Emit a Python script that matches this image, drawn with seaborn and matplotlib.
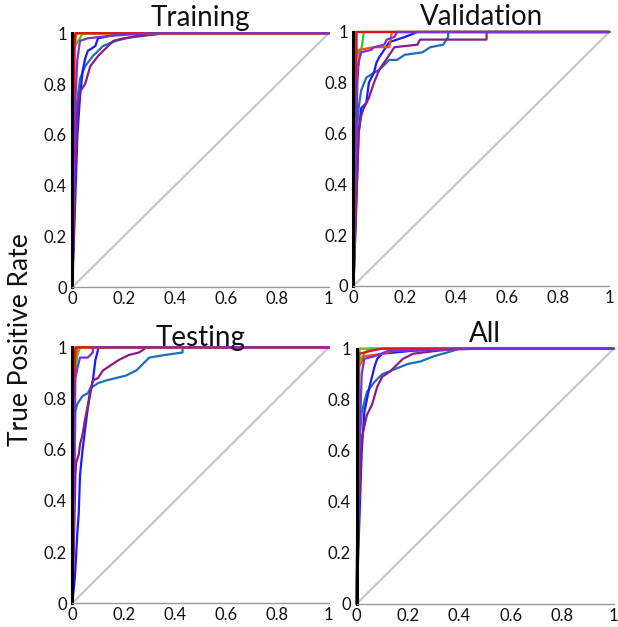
import matplotlib
matplotlib.use("Agg")
import matplotlib.pyplot as plt
import seaborn as sns
import pandas as pd

# ---------------- data ----------------
class_colors = {
    "c2": "#2ecc2e", "c3": "#8fa000", "c4": "#ff5000",
    "c5": "#e0101a", "c6": "#1f6fb5", "c7": "#1a1aff", "c8": "#8b1a8b",
    "c9": "#7b2fd6",
}
draw_order = ["c6", "c7", "c8", "c3", "c2", "c4", "c5", "c9"]
panel_titles = ["Training", "Validation", "Testing", "All"]
tick_values = [0, 0.2, 0.4, 0.6, 0.8, 1]
tick_labels = ["0", "0.2", "0.4", "0.6", "0.8", "1"]
ylabel_text = "True Positive Rate"

train_fpr = {
    "c2": [0, 0.01, 0.03, 0.04, 1],
    "c3": [0, 0.008, 0.012, 1],
    "c4": [0, 0.008, 0.014, 1],
    "c5": [0, 0.006, 0.012, 1],
    "c6": [0, 0.01, 0.015, 0.03, 0.05, 0.08, 0.12, 0.17, 0.25, 0.38, 1],
    "c7": [0, 0.01, 0.02, 0.03, 0.04, 0.05, 0.06, 0.09, 0.1, 0.15, 0.2, 1],
    "c8": [0, 0.01, 0.02, 0.03, 0.05, 0.07, 0.1, 0.13, 0.16, 0.2, 0.28, 0.35, 1],
    "c9": [0, 0.01, 0.02, 0.03, 0.06, 0.15, 0.3, 1],
}
train_tpr = {
    "c2": [0, 0.95, 0.98, 1, 1],
    "c3": [0, 0.95, 1, 1],
    "c4": [0, 0.9, 1, 1],
    "c5": [0, 0.92, 1, 1],
    "c6": [0, 0.5, 0.7, 0.82, 0.87, 0.91, 0.95, 0.97, 0.99, 1, 1],
    "c7": [0, 0.3, 0.6, 0.75, 0.85, 0.9, 0.93, 0.95, 0.98, 0.99, 1, 1],
    "c8": [0, 0.4, 0.7, 0.77, 0.8, 0.87, 0.91, 0.94, 0.97, 0.98, 0.99, 1, 1],
    "c9": [0, 0.7, 0.9, 0.97, 0.98, 0.99, 1, 1],
}

valid_fpr = {
    "c2": [0, 0.01, 0.02, 0.03, 0.035, 0.04, 1],
    "c3": [0, 0.006, 0.008, 1],
    "c4": [0, 0.008, 0.01, 0.02, 0.025, 0.08, 0.14, 0.15, 1],
    "c5": [0, 0.008, 0.012, 0.012, 1],
    "c6": [0, 0.008, 0.012, 0.02, 0.03, 0.05, 0.08, 0.1, 0.12, 0.14, 0.17, 0.2,
           0.27, 0.3, 0.35, 0.37, 0.37, 1],
    "c7": [0, 0.01, 0.02, 0.03, 0.05, 0.06, 0.08, 0.09, 0.1, 0.12, 0.14, 0.2,
           0.25, 1],
    "c8": [0, 0.01, 0.02, 0.03, 0.04, 0.06, 0.08, 0.1, 0.12, 0.14, 0.16, 0.25,
           0.26, 0.52, 0.52, 1],
    "c9": [0, 0.01, 0.015, 0.02, 0.03, 0.07, 0.08, 0.12, 0.13, 0.16, 0.17, 1],
}
valid_tpr = {
    "c2": [0, 0.9, 0.93, 0.93, 0.96, 1, 1],
    "c3": [0, 0.88, 1, 1],
    "c4": [0, 0.7, 0.87, 0.87, 0.93, 0.94, 0.94, 1, 1],
    "c5": [0, 0.35, 0.97, 1, 1],
    "c6": [0, 0.4, 0.6, 0.7, 0.77, 0.82, 0.84, 0.85, 0.87, 0.89, 0.89, 0.91,
           0.92, 0.94, 0.95, 0.98, 1, 1],
    "c7": [0, 0.3, 0.6, 0.7, 0.72, 0.8, 0.84, 0.88, 0.9, 0.93, 0.96, 0.98,
           1, 1],
    "c8": [0, 0.3, 0.6, 0.67, 0.7, 0.74, 0.8, 0.85, 0.88, 0.91, 0.94, 0.95,
           0.97, 0.97, 1, 1],
    "c9": [0, 0.5, 0.8, 0.88, 0.92, 0.93, 0.94, 0.95, 0.97, 0.98, 1, 1],
}

test_fpr = {
    "c2": [0, 0.01, 0.02, 0.03, 1],
    "c3": [0, 0.008, 0.012, 1],
    "c4": [0, 0.01, 0.02, 1],
    "c5": [0, 0.008, 0.012, 0.07, 1],
    "c6": [0, 0.008, 0.012, 0.02, 0.04, 0.06, 0.07, 0.1, 0.13, 0.17, 0.21, 0.25,
           0.27, 0.3, 0.36, 0.43, 0.43, 1],
    "c7": [0, 0.01, 0.02, 0.025, 0.03, 0.04, 0.05, 0.06, 0.07, 0.08, 0.09,
           0.1, 0.1, 1],
    "c8": [0, 0.008, 0.012, 0.015, 0.025, 0.03, 0.04, 0.05, 0.06, 0.07, 0.08,
           0.1, 0.12, 0.15, 0.18, 0.22, 0.26, 0.29, 1],
    "c9": [0, 0.008, 0.012, 0.02, 0.03, 0.06, 0.08, 0.08, 1],
}
test_tpr = {
    "c2": [0, 0.9, 0.97, 1, 1],
    "c3": [0, 0.9, 1, 1],
    "c4": [0, 0.95, 1, 1],
    "c5": [0, 0.9, 1, 1, 1],
    "c6": [0, 0.5, 0.75, 0.78, 0.81, 0.82, 0.84, 0.86, 0.87, 0.88, 0.89, 0.91,
           0.93, 0.96, 0.97, 0.98, 1, 1],
    "c7": [0, 0.1, 0.28, 0.35, 0.5, 0.6, 0.68, 0.76, 0.82, 0.87, 0.95,
           0.99, 1, 1],
    "c8": [0, 0.3, 0.5, 0.55, 0.58, 0.62, 0.66, 0.72, 0.77, 0.83, 0.87,
           0.88, 0.91, 0.93, 0.95, 0.97, 0.98, 1, 1],
    "c9": [0, 0.6, 0.88, 0.92, 0.96, 0.96, 0.98, 1, 1],
}

all_fpr = {
    "c2": [0, 0.01, 0.03, 0.05, 1],
    "c3": [0, 0.008, 0.012, 1],
    "c4": [0, 0.01, 0.03, 0.1, 0.18, 1],
    "c5": [0, 0.008, 0.012, 0.05, 0.1, 1],
    "c6": [0, 0.008, 0.012, 0.02, 0.04, 0.07, 0.1, 0.15, 0.2, 0.25, 0.3, 0.37,
           0.4, 1],
    "c7": [0, 0.01, 0.02, 0.03, 0.05, 0.07, 0.08, 0.1, 0.2, 0.35, 1],
    "c8": [0, 0.01, 0.02, 0.04, 0.06, 0.08, 0.1, 0.13, 0.15, 0.18, 0.22, 0.3,
           0.4, 1],
    "c9": [0, 0.01, 0.02, 0.03, 0.07, 0.12, 0.5, 1],
}
all_tpr = {
    "c2": [0, 0.95, 0.98, 1, 1],
    "c3": [0, 0.95, 1, 1],
    "c4": [0, 0.93, 0.97, 0.98, 1, 1],
    "c5": [0, 0.95, 0.98, 0.99, 1, 1],
    "c6": [0, 0.5, 0.65, 0.75, 0.83, 0.87, 0.9, 0.92, 0.94, 0.95, 0.97, 0.99,
           1, 1],
    "c7": [0, 0.3, 0.6, 0.75, 0.85, 0.93, 0.96, 0.98, 0.99, 1, 1],
    "c8": [0, 0.4, 0.65, 0.74, 0.78, 0.85, 0.89, 0.91, 0.93, 0.96, 0.98, 0.99,
           1, 1],
    "c9": [0, 0.6, 0.9, 0.96, 0.97, 0.99, 1, 1],
}

panel_data = [(train_fpr, train_tpr), (valid_fpr, valid_tpr),
              (test_fpr, test_tpr), (all_fpr, all_tpr)]

# ---------------- layout ----------------
sns.set_style("white")
plt.rcParams["font.family"] = ["Lato", "DejaVu Sans"]

fig = plt.figure(figsize=(6.18, 6.27), dpi=100)
axes_rects = [
    [0.117, 0.542, 0.415, 0.405],
    [0.572, 0.544, 0.414, 0.405],
    [0.117, 0.038, 0.415, 0.408],
    [0.577, 0.037, 0.416, 0.407],
]
title_pads = [5, 5, 1, 5]

for rect, title, (fpr, tpr), pad in zip(axes_rects, panel_titles, panel_data, title_pads):
    ax = fig.add_axes(rect)
    diag = pd.DataFrame({"x": [0, 1], "y": [0, 1]})
    sns.lineplot(data=diag, x="x", y="y", ax=ax, color="#c8c8c8", lw=1.6,
                 sort=False, estimator=None)
    for cls in draw_order:
        df = pd.DataFrame({"fpr": fpr[cls], "tpr": tpr[cls]})
        sns.lineplot(data=df, x="fpr", y="tpr", ax=ax, color=class_colors[cls],
                     lw=1.6, sort=False, estimator=None, clip_on=False)
    ax.set_xlim(0, 1)
    ax.set_ylim(0, 1)
    ax.set_xticks(tick_values)
    ax.set_xticklabels(tick_labels)
    ax.set_yticks(tick_values)
    ax.set_yticklabels(tick_labels)
    ax.set_xlabel("")
    ax.set_ylabel("")
    for side in ["top", "right"]:
        ax.spines[side].set_visible(False)
    ax.spines["left"].set_color("#000000")
    ax.spines["left"].set_linewidth(2.2)
    ax.spines["bottom"].set_color("#999999")
    ax.spines["bottom"].set_linewidth(1.0)
    ax.tick_params(axis="x", direction="in", length=2.5, width=1,
                   color="#555555", labelsize=12, pad=3, labelcolor="#111111")
    ax.tick_params(axis="y", length=0, labelsize=12, pad=4, labelcolor="#111111")
    ax.set_title(title, fontsize=20, pad=pad, color="#111111")

fig.text(0.033, 0.458, ylabel_text, rotation=90, fontsize=19,
         ha="center", va="center", color="#111111")

fig.savefig("out.png", dpi=100)
